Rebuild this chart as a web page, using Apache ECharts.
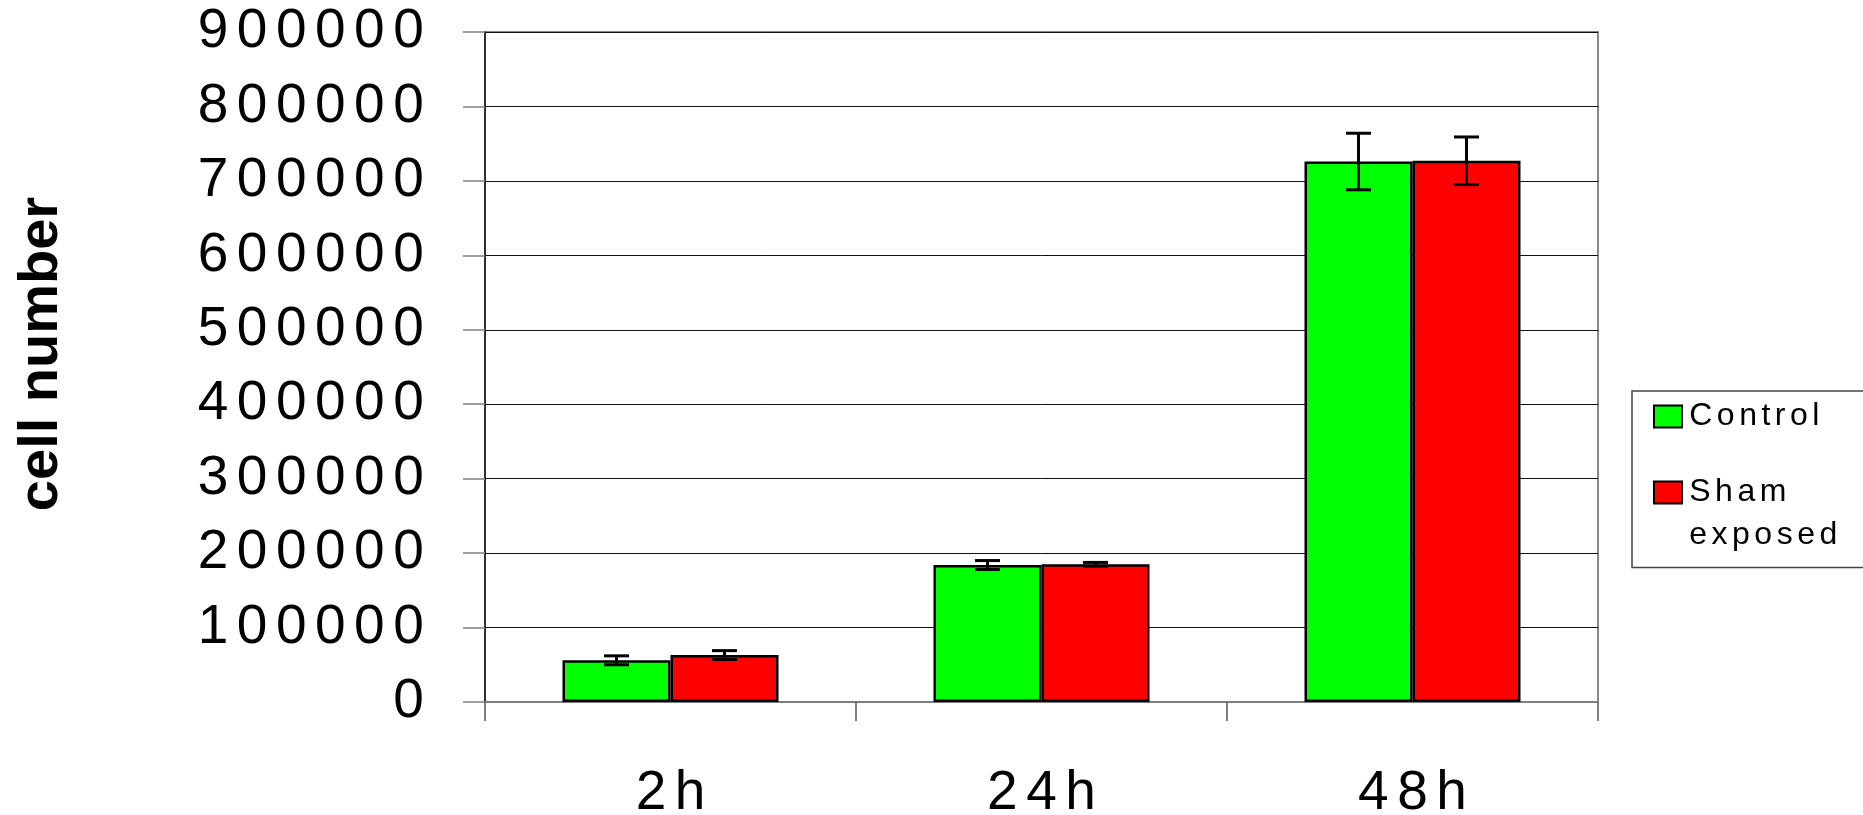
<!DOCTYPE html>
<html>
<head>
<meta charset="utf-8">
<script src="https://cdn.jsdelivr.net/npm/echarts@6/dist/echarts.min.js"></script>
<style>
html,body{margin:0;padding:0;background:#fff;}
#chart{width:1863px;height:815px;}
</style>
</head>
<body>
<div id="chart"></div>
<script>
// ---- data ----
const categories = ['2h', '24h', '48h'];
const seriesNames = ['Control', 'Sham exposed'];
const controlValues = [56000, 184000, 726000];
const controlErrors = [6000, 6000, 38000];
const shamValues = [63000, 185000, 727000];
const shamErrors = [6000, 2500, 32000];
const yTicks = [0, 100000, 200000, 300000, 400000, 500000, 600000, 700000, 800000, 900000];

// ---- style constants ----
const FONT = 'Liberation Sans, Arial, sans-serif';
const BAR_W = 108;

function spaced(s, key) {
  return String(s).split('').map(function (ch) { return '{' + key + '|' + ch + '}'; }).join('');
}

function errorSeries(name, values, errors, offset) {
  return {
    type: 'custom',
    name: name + ' error',
    z: 5,
    silent: true,
    data: values.map(function (v, i) { return [i, v, errors[i]]; }),
    renderItem: function (params, api) {
      const i = api.value(0), v = api.value(1), e = api.value(2);
      const hi = api.coord([i, v + e]);
      const lo = api.coord([i, v - e]);
      const x = hi[0] + offset;
      const cap = 12.5;
      const st = { stroke: '#000', lineWidth: 3 };
      return {
        type: 'group',
        children: [
          { type: 'line', shape: { x1: x, y1: hi[1], x2: x, y2: lo[1] }, style: st },
          { type: 'line', shape: { x1: x - cap, y1: hi[1], x2: x + cap, y2: hi[1] }, style: st },
          { type: 'line', shape: { x1: x - cap, y1: lo[1], x2: x + cap, y2: lo[1] }, style: st }
        ]
      };
    }
  };
}

const chart = echarts.init(document.getElementById('chart'));
const option = {
  animation: false,
  backgroundColor: '#fff',
  grid: {
    left: 485, right: 265, top: 32, bottom: 113,
    outerBoundsMode: 'none',
    containLabel: false,
    show: true, borderColor: '#8a8a8a', borderWidth: 2, backgroundColor: 'transparent'
  },
  legend: {
    orient: 'vertical',
    left: 1632, top: 391,
    padding: [9.5, 300, 16, 21],
    itemWidth: 28, itemHeight: 22, itemGap: 1,
    borderColor: '#444', borderWidth: 1.5,
    icon: 'rect',
    data: seriesNames,
    formatter: function (name) {
      if (name === 'Sham exposed') {
        return '{l| }\n' + spaced('Sham', 'l') + '\n' + spaced('exposed', 'l');
      }
      return spaced(name, 'l');
    },
    textStyle: {
      rich: {
        l: { fontSize: 32, fontFamily: FONT, color: '#000', lineHeight: 43, padding: [0, 2.25, 0, 2.25] }
      }
    }
  },
  xAxis: {
    type: 'category',
    data: categories,
    boundaryGap: true,
    axisLine: { show: true, lineStyle: { color: '#808080', width: 2 } },
    axisTick: { show: true, interval: 0, length: 19, lineStyle: { color: '#555', width: 1.5 } },
    axisLabel: {
      interval: 0,
      margin: 64,
      formatter: function (v) { return spaced(v, 'x'); },
      rich: { x: { fontSize: 55, fontFamily: FONT, color: '#000', lineHeight: 56, padding: [0, 4.25, 0, 4.25] } }
    },
    splitLine: { show: false }
  },
  yAxis: {
    type: 'value',
    min: yTicks[0],
    max: yTicks[yTicks.length - 1],
    interval: yTicks[1] - yTicks[0],
    name: 'cell number',
    nameLocation: 'middle',
    nameRotate: 90,
    nameGap: 415,
    nameTextStyle: { fontSize: 56, fontWeight: 'bold', fontFamily: FONT, color: '#000', padding: [0, 0, 0, 26] },
    axisLine: { show: true, lineStyle: { color: '#111', width: 1.5 } },
    axisTick: { show: true, length: 22, lineStyle: { color: '#808080', width: 1.5 } },
    axisLabel: {
      margin: 57,
      formatter: function (v) { return spaced(v, 'y'); },
      rich: { y: { fontSize: 55, fontFamily: FONT, color: '#000', lineHeight: 56, padding: [0, 4.25, 0, 4.25] } }
    },
    splitLine: { show: true, lineStyle: { color: '#111', width: 1 } }
  },
  series: [
    {
      type: 'bar', name: seriesNames[0], data: controlValues,
      barWidth: BAR_W, barGap: '0%',
      itemStyle: { color: '#00ff00', borderColor: '#000', borderWidth: 2.5 }
    },
    {
      type: 'bar', name: seriesNames[1], data: shamValues,
      barWidth: BAR_W, barGap: '0%',
      itemStyle: { color: '#ff0000', borderColor: '#000', borderWidth: 2.5 }
    },
    errorSeries(seriesNames[0], controlValues, controlErrors, -BAR_W / 2),
    errorSeries(seriesNames[1], shamValues, shamErrors, BAR_W / 2)
  ]
};
chart.setOption(option);
</script>
</body>
</html>
